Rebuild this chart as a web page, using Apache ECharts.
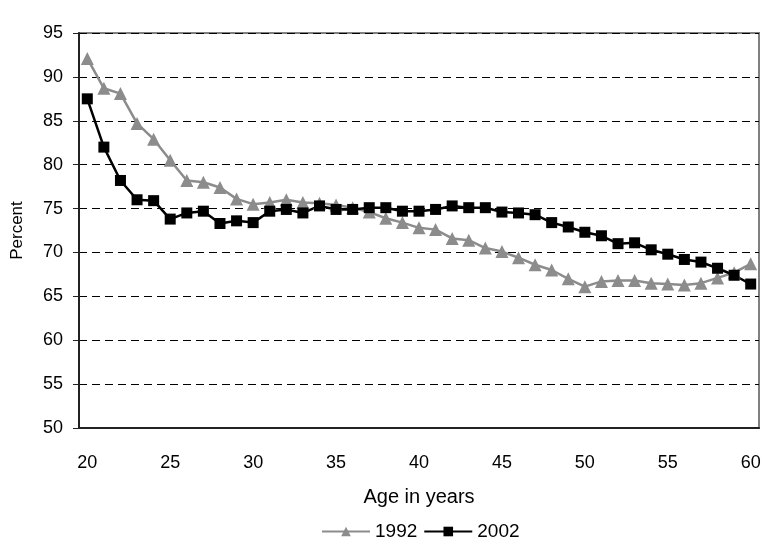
<!DOCTYPE html>
<html>
<head>
<meta charset="utf-8">
<script src="https://cdn.jsdelivr.net/npm/echarts@6/dist/echarts.min.js"></script>
<style>
  html, body {margin: 0; padding: 0; background: #fff;}
  #chart {width: 776px; height: 551px;}
</style>
</head>
<body>
<div id="chart"></div>
<script>
// ages 20..60
const ages = ['20', '21', '22', '23', '24', '25', '26', '27', '28', '29',
  '30', '31', '32', '33', '34', '35', '36', '37', '38', '39',
  '40', '41', '42', '43', '44', '45', '46', '47', '48', '49',
  '50', '51', '52', '53', '54', '55', '56', '57', '58', '59', '60'];

const pct1992 = [92.1, 88.7, 88.1, 84.7, 82.9, 80.5, 78.2, 78.0, 77.4, 76.1,
  75.5, 75.7, 76.0, 75.7, 75.6, 75.4, 75.1, 74.6, 73.9, 73.4,
  72.8, 72.6, 71.6, 71.4, 70.5, 70.1, 69.4, 68.6, 68.0, 67.0,
  66.1, 66.7, 66.8, 66.8, 66.5, 66.4, 66.3, 66.5, 67.1, 67.7, 68.7];

const pct2002 = [87.5, 82.0, 78.2, 76.0, 75.9, 73.8, 74.5, 74.7, 73.3, 73.6,
  73.4, 74.7, 74.9, 74.5, 75.3, 74.9, 74.9, 75.1, 75.1, 74.7,
  74.7, 74.9, 75.3, 75.1, 75.1, 74.6, 74.5, 74.3, 73.4, 72.9,
  72.3, 71.9, 71.0, 71.1, 70.3, 69.8, 69.2, 68.9, 68.2, 67.4, 66.4];

const font = '"Liberation Sans", Arial, sans-serif';

const chart = echarts.init(document.getElementById('chart'));
chart.setOption({
  animation: false,
  grid: {
    left: 79, right: 17, top: 33, bottom: 123,
    outerBoundsMode: 'none',
    show: true, borderColor: '#808080', borderWidth: 2, backgroundColor: '#fff'
  },
  legend: {
    bottom: 5,
    left: 316,
    itemWidth: 48,
    itemHeight: 12,
    itemGap: 6,
    textStyle: {fontFamily: font, fontSize: 19, color: '#000'},
    data: ['1992', '2002']
  },
  xAxis: {
    type: 'category',
    data: ages,
    boundaryGap: true,
    name: 'Age in years',
    nameLocation: 'middle',
    nameGap: 59,
    nameTextStyle: {fontFamily: font, fontSize: 20, color: '#000'},
    axisLine: {lineStyle: {color: '#222', width: 2}},
    axisTick: {interval: 0, length: 5, lineStyle: {color: '#222', width: 1}},
    axisLabel: {interval: 4, margin: 26, fontFamily: font, fontSize: 18, color: '#000'},
    splitLine: {show: false}
  },
  yAxis: {
    type: 'value',
    min: 50,
    max: 95,
    interval: 5,
    name: 'Percent',
    nameLocation: 'middle',
    nameGap: 53,
    nameTextStyle: {fontFamily: font, fontSize: 17, color: '#000'},
    axisLine: {show: true, lineStyle: {color: '#222', width: 2}},
    axisTick: {show: true, length: 6, lineStyle: {color: '#222', width: 1}},
    axisLabel: {margin: 16, fontFamily: font, fontSize: 18, color: '#000'},
    splitLine: {lineStyle: {color: '#000', width: 1, type: [8, 5]}}
  },
  series: [{
    name: '1992',
    type: 'line',
    data: pct1992,
    symbol: 'triangle',
    symbolSize: 13,
    showAllSymbol: true,
    lineStyle: {color: '#8c8c8c', width: 2.5},
    itemStyle: {color: '#8c8c8c'}
  }, {
    name: '2002',
    type: 'line',
    data: pct2002,
    symbol: 'rect',
    symbolSize: 11,
    showAllSymbol: true,
    lineStyle: {color: '#000', width: 2.5},
    itemStyle: {color: '#000'}
  }]
});
</script>
</body>
</html>
